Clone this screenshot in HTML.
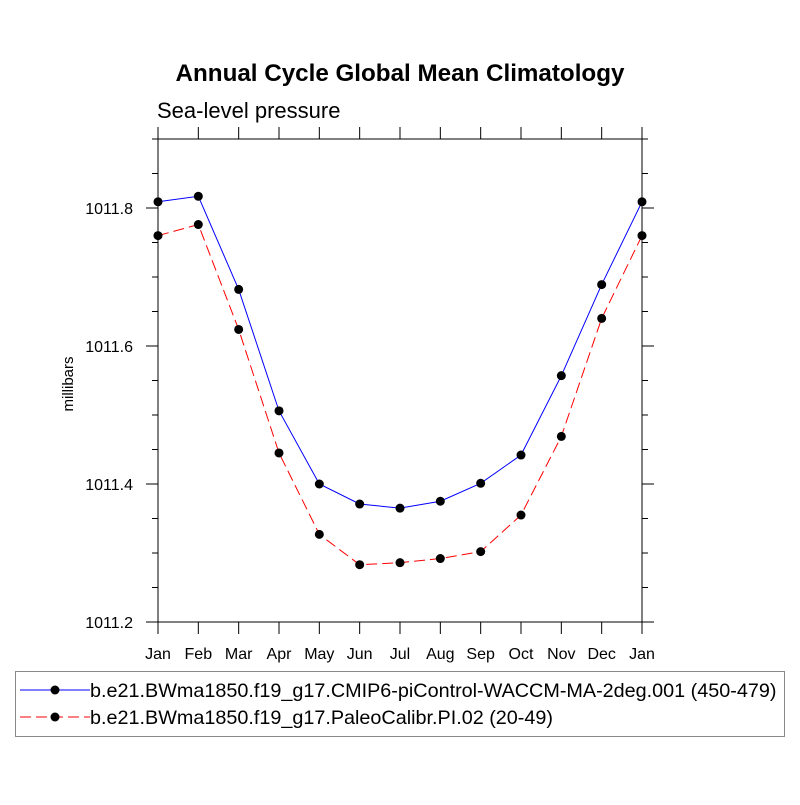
<!DOCTYPE html>
<html><head><meta charset="utf-8"><style>
body{margin:0;background:#fff}
svg text{font-family:"Liberation Sans",Arial,sans-serif}
</style></head><body>
<svg id="chart" width="800" height="800" xmlns="http://www.w3.org/2000/svg">
<text x="400" y="81" text-anchor="middle" font-size="24.2" font-weight="bold">Annual Cycle Global Mean Climatology</text>
<text x="157" y="118" font-size="22">Sea-level pressure</text>
<text transform="translate(73,384) rotate(-90)" text-anchor="middle" font-size="15">millibars</text>
<g id="axes"></g>
<g id="series"></g>
<rect x="15.5" y="671.5" width="769" height="65" fill="none" stroke="#888"/>
<g>
<line x1="20" y1="690" x2="90" y2="690" stroke="#0000ff" stroke-width="1"/>
<circle cx="55" cy="690" r="4.5" fill="#000"/>
<text x="90" y="697" font-size="19.8">b.e21.BWma1850.f19_g17.CMIP6-piControl-WACCM-MA-2deg.001 (450-479)</text>
</g>
<g>
<line x1="20" y1="717" x2="90" y2="717" stroke="#ff0000" stroke-width="1" stroke-dasharray="11,5"/>
<circle cx="55" cy="717" r="4.5" fill="#000"/>
<text x="90" y="724" font-size="19.8">b.e21.BWma1850.f19_g17.PaleoCalibr.PI.02 (20-49)</text>
</g>
</svg>
<script>
const months=["Jan","Feb","Mar","Apr","May","Jun","Jul","Aug","Sep","Oct","Nov","Dec","Jan"];
const waccm=[1011.809,1011.817,1011.682,1011.506,1011.400,1011.371,1011.365,1011.375,1011.401,1011.442,1011.557,1011.689,1011.809];
const paleo=[1011.760,1011.776,1011.624,1011.445,1011.327,1011.283,1011.286,1011.292,1011.302,1011.355,1011.469,1011.640,1011.760];
const yTicks=[1011.2,1011.4,1011.6,1011.8];
const yMin=1011.2,yMax=1011.9;
const L=158,R=642,T=139,B=622;
const NS="http://www.w3.org/2000/svg";
function xs(i){return L+(R-L)*i/(months.length-1);}
function ys(v){return B-(v-yMin)/(yMax-yMin)*(B-T);}
function mk(t,a,p){const e=document.createElementNS(NS,t);for(const k in a)e.setAttribute(k,a[k]);p.appendChild(e);return e;}
const ax=document.getElementById('axes');
const frame=mk('rect',{x:L,y:T,width:R-L,height:B-T,fill:'none',stroke:'#000','stroke-width':1},ax);


months.forEach((m,i)=>{
  const x=xs(i);
  mk('line',{x1:x,y1:B,x2:x,y2:B+12,stroke:'#000'},ax);
  mk('line',{x1:x,y1:T,x2:x,y2:T-12,stroke:'#000'},ax);
  const t=mk('text',{x:x,y:B+37,'text-anchor':'middle','font-size':16},ax);
  t.textContent=m;
  
  
});
for(let v=yMin;v<=yMax+1e-9;v+=0.05){
  const y=ys(v);
  const major=yTicks.some(t=>Math.abs(t-v)<1e-6);
  const len=major?12:6;
  mk('line',{x1:L,y1:y,x2:L-len,y2:y,stroke:'#000'},ax);
  mk('line',{x1:R,y1:y,x2:R+len,y2:y,stroke:'#000'},ax);
}
yTicks.forEach(v=>{
  const t=mk('text',{x:L-25,y:ys(v)+6,'text-anchor':'end','font-size':16},ax);
  t.textContent=v.toFixed(1);
  
  
});
const sg=document.getElementById('series');
function draw(vals,color,dash,name){
  const g=mk('g',{},sg);
  
  
  mk('polyline',{points:vals.map((v,i)=>xs(i)+','+ys(v)).join(' '),fill:'none',stroke:color,'stroke-width':1,'stroke-dasharray':dash},g);
  vals.forEach((v,i)=>{
    const c=mk('circle',{cx:xs(i),cy:ys(v),r:4.5,fill:'#000'},g);
    
    
  });
}
draw(paleo,'#ff0000','11,5','series-paleocalibr');
draw(waccm,'#0000ff','none','series-waccm');
</script>
</body></html>
